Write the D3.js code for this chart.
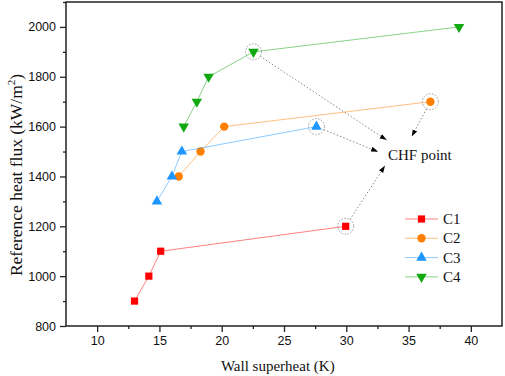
<!DOCTYPE html>
<html>
<head>
<meta charset="utf-8">
<script src="https://cdn.jsdelivr.net/npm/d3@7"></script>
<style>
  body { margin: 0; background: #fff; }
  svg { display: block; }
</style>
</head>
<body>
<div id="chart"></div>
<script>
const seriesNames = ['C1', 'C2', 'C3', 'C4'];
const seriesColors = ['#ff0000', '#ff8000', '#1e96ff', '#12a812'];
const seriesSymbols = ['square', 'circle', 'triangle', 'triangleDown'];

const c1Superheat = [13.0, 14.15, 15.1, 29.95];
const c1Flux = [900, 1000, 1100, 1200];
const c2Superheat = [16.55, 18.3, 20.2, 36.75];
const c2Flux = [1400, 1500, 1600, 1700];
const c3Superheat = [14.8, 16.0, 16.8, 27.6];
const c3Flux = [1300, 1400, 1500, 1600];
const c4Superheat = [16.95, 18.0, 18.95, 22.55, 39.05];
const c4Flux = [1600, 1700, 1800, 1900, 2000];

const xTicks = [10, 15, 20, 25, 30, 35, 40];
const yTicks = [800, 1000, 1200, 1400, 1600, 1800, 2000];

// index of the CHF point in each series, and arrow tips near the label (data units)
const chfIndex = [3, 3, 3, 3];
const chfLabel = { x: 33.35, y: 1466, text: 'CHF point' };
const chfTips = [[33.1, 1443], [35.25, 1560], [32.55, 1499], [33.24, 1546]];

const width = 505;
const height = 376;
const margin = { top: 2, right: 3, bottom: 50, left: 66 };

const x = d3.scaleLinear()
  .domain([7.5, 42.5])
  .range([margin.left, width - margin.right])
  ;
const y = d3.scaleLinear()
  .domain([800, 2100])
  .range([height - margin.bottom, margin.top])
  ;

const series = [
  [c1Superheat, c1Flux],
  [c2Superheat, c2Flux],
  [c3Superheat, c3Flux],
  [c4Superheat, c4Flux]
].map(function(pair, i) {
  return {
    name: seriesNames[i],
    color: seriesColors[i],
    symbol: seriesSymbols[i],
    points: pair[0].map(function(v, j) { return [v, pair[1][j]]; })
  };
});

const svg = d3.select('#chart')
  .append('svg')
  .attr('width', width)
  .attr('height', height)
  ;

svg.append('defs')
  .append('marker')
  .attr('id', 'arrow')
  .attr('viewBox', '0 0 10 10')
  .attr('refX', 10)
  .attr('refY', 5)
  .attr('markerWidth', 7)
  .attr('markerHeight', 7)
  .attr('markerUnits', 'userSpaceOnUse')
  .attr('orient', 'auto')
  .append('path')
  .attr('d', 'M0,1.5 L10,5 L0,8.5 Z')
  .attr('fill', '#000')
  ;

// axes
svg.append('g')
  .attr('transform', `translate(0,${height - margin.bottom})`)
  .call(d3.axisBottom(x).tickValues(xTicks).tickSize(6).tickSizeOuter(0).tickPadding(4).tickFormat(d3.format('d')))
  ;
svg.append('g')
  .attr('transform', `translate(0,${height - margin.bottom})`)
  .call(d3.axisBottom(x).tickValues(xTicks.map(function(t) { return t + 2.5; }).filter(function(t) { return t < 42.5; })).tickSize(3).tickSizeOuter(0).tickFormat(''))
  ;
svg.append('g')
  .attr('transform', `translate(${margin.left},0)`)
  .call(d3.axisLeft(y).tickValues(yTicks).tickSize(6).tickSizeOuter(0).tickPadding(4).tickFormat(d3.format('d')))
  ;
svg.append('g')
  .attr('transform', `translate(${margin.left},0)`)
  .call(d3.axisLeft(y).tickValues(yTicks.map(function(t) { return t + 100; })).tickSize(3).tickSizeOuter(0).tickFormat(''))
  ;

svg.selectAll('.domain').remove();
svg.selectAll('.tick line').attr('stroke', '#222').attr('stroke-width', 1.3);
svg.selectAll('.tick text')
  .attr('fill', '#111')
  .style('font-family', 'Liberation Sans, Arial, sans-serif')
  .style('font-size', '12.5px')
  ;

svg.append('rect')
  .attr('x', margin.left)
  .attr('y', margin.top)
  .attr('width', width - margin.left - margin.right)
  .attr('height', height - margin.top - margin.bottom)
  .attr('fill', 'none')
  .attr('stroke', '#222')
  .attr('stroke-width', 1.5)
  ;

// axis titles
svg.append('text')
  .attr('x', x(24.5))
  .attr('y', 371)
  .attr('text-anchor', 'middle')
  .style('font-family', 'Liberation Serif, Times New Roman, serif')
  .style('font-size', '15px')
  .attr('fill', '#111')
  .text('Wall superheat (K)')
  ;

const yTitle = svg.append('text')
  .attr('transform', `translate(22,${y(1406)}) rotate(-90)`)
  .attr('text-anchor', 'middle')
  .style('font-family', 'Liberation Serif, Times New Roman, serif')
  .style('font-size', '17.5px')
  .attr('fill', '#111')
  ;
yTitle.append('tspan').text('Reference heat flux (kW/m');
yTitle.append('tspan').attr('dy', -7).style('font-size', '11px').text('2');
yTitle.append('tspan').attr('dy', 7).text(')');

// annotation: dashed circles + dotted arrows
const chfPoints = series.map(function(s, i) { return s.points[chfIndex[i]]; });

svg.append('g')
  .selectAll('circle')
  .data(chfPoints)
  .join('circle')
  .attr('cx', function(d) { return x(d[0]); })
  .attr('cy', function(d) { return y(d[1]); })
  .attr('r', 8)
  .attr('fill', 'none')
  .attr('stroke', '#999')
  .attr('stroke-width', 1)
  .attr('stroke-dasharray', '1.5,1.5')
  ;

svg.append('g')
  .selectAll('line')
  .data(chfPoints)
  .join('line')
  .each(function(d, i) {
    const x0 = x(d[0]);
    const y0 = y(d[1]);
    const x1 = x(chfTips[i][0]);
    const y1 = y(chfTips[i][1]);
    const len = Math.hypot(x1 - x0, y1 - y0);
    d3.select(this)
      .attr('x1', x0 + (x1 - x0) / len * 8)
      .attr('y1', y0 + (y1 - y0) / len * 8)
      .attr('x2', x1)
      .attr('y2', y1)
      ;
  })
  .attr('stroke', '#888')
  .attr('stroke-width', 1)
  .attr('stroke-dasharray', '1.5,2')
  .attr('marker-end', 'url(#arrow)')
  ;

svg.append('text')
  .attr('x', x(chfLabel.x))
  .attr('y', y(chfLabel.y))
  .style('font-family', 'Liberation Serif, Times New Roman, serif')
  .style('font-size', '15px')
  .attr('fill', '#111')
  .text(chfLabel.text)
  ;

// series
const symbolTypes = {
  square: d3.symbolSquare,
  circle: d3.symbolCircle,
  triangle: d3.symbolTriangle,
  triangleDown: d3.symbolTriangle
};
const symbolSizes = { square: 52, circle: 56, triangle: 48, triangleDown: 48 };

function drawSymbol(g, s, px, py) {
  g.append('path')
    .attr('d', d3.symbol().type(symbolTypes[s.symbol]).size(symbolSizes[s.symbol])())
    .attr('transform', `translate(${px},${py})` + (s.symbol === 'triangleDown' ? ' rotate(180)' : ''))
    .attr('fill', s.color)
    ;
}

const line = d3.line()
  .x(function(d) { return x(d[0]); })
  .y(function(d) { return y(d[1]); })
  ;

series.forEach(function(s) {
  const g = svg.append('g');
  g.append('path')
    .attr('d', line(s.points))
    .attr('fill', 'none')
    .attr('stroke', s.color)
    .attr('stroke-opacity', 0.5)
    .attr('stroke-width', 1)
    ;
  s.points.forEach(function(p) {
    drawSymbol(g, s, x(p[0]), y(p[1]));
  });
});

// legend
const legend = svg.append('g');
series.forEach(function(s, i) {
  const ly = 219 + i * 19.3;
  const g = legend.append('g');
  g.append('line')
    .attr('x1', 405)
    .attr('x2', 438)
    .attr('y1', ly)
    .attr('y2', ly)
    .attr('stroke', s.color)
    .attr('stroke-opacity', 0.5)
    .attr('stroke-width', 1)
    ;
  drawSymbol(g, s, 421.5, ly);
  g.append('text')
    .attr('x', 443)
    .attr('y', ly + 5)
    .style('font-family', 'Liberation Serif, Times New Roman, serif')
    .style('font-size', '15px')
    .attr('fill', '#111')
    .text(s.name)
    ;
});
</script>
</body>
</html>
